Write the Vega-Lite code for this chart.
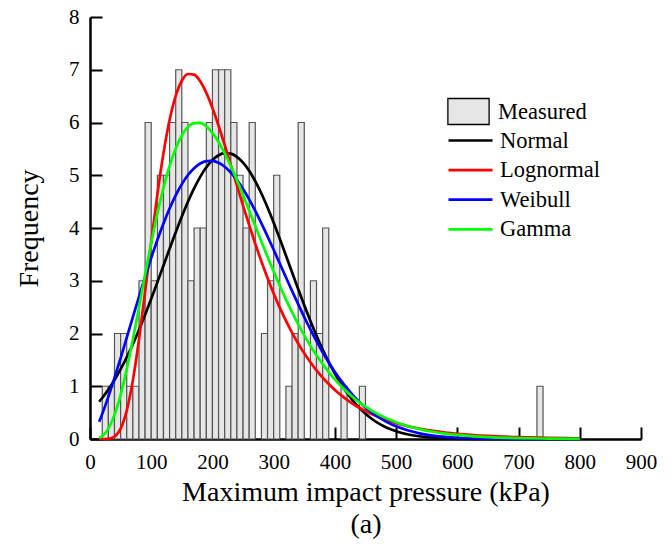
{
  "$schema": "https://vega.github.io/schema/vega-lite/v6.json",
  "width": 551,
  "height": 422,
  "autosize": {"type": "none"},
  "padding": {"left": 90, "top": 17, "right": 31, "bottom": 105},
  "background": "white",
  "config": {
    "font": "Liberation Serif",
    "view": {"stroke": null},
    "axis": {
      "grid": false,
      "domainColor": "black",
      "domainWidth": 2.5,
      "tickColor": "black",
      "tickWidth": 2,
      "tickSize": -12,
      "labelColor": "black",
      "labelFont": "Liberation Serif",
      "labelFontSize": 21,
      "labelFlush": false,
      "labelOverlap": false,
      "titleFont": "Liberation Serif",
      "titleFontSize": 28,
      "titleFontWeight": "normal",
      "titleColor": "black"
    },
    "legend": {
      "labelFont": "Liberation Serif",
      "labelFontSize": 22.5,
      "labelColor": "black",
      "padding": 0
    }
  },
  "datasets": {
    "bins": [
      {"lo": 20, "hi": 30, "count": 1}, {"lo": 30, "hi": 40, "count": 1},
      {"lo": 40, "hi": 50, "count": 2}, {"lo": 50, "hi": 60, "count": 2},
      {"lo": 60, "hi": 70, "count": 1}, {"lo": 70, "hi": 80, "count": 1},
      {"lo": 80, "hi": 90, "count": 3}, {"lo": 90, "hi": 100, "count": 6},
      {"lo": 100, "hi": 110, "count": 3}, {"lo": 110, "hi": 120, "count": 5},
      {"lo": 120, "hi": 130, "count": 5}, {"lo": 130, "hi": 140, "count": 6},
      {"lo": 140, "hi": 150, "count": 7}, {"lo": 150, "hi": 160, "count": 6},
      {"lo": 160, "hi": 170, "count": 3}, {"lo": 170, "hi": 180, "count": 4},
      {"lo": 180, "hi": 190, "count": 4}, {"lo": 190, "hi": 200, "count": 6},
      {"lo": 200, "hi": 210, "count": 7}, {"lo": 210, "hi": 220, "count": 7},
      {"lo": 220, "hi": 230, "count": 7}, {"lo": 230, "hi": 240, "count": 6},
      {"lo": 240, "hi": 250, "count": 5}, {"lo": 250, "hi": 260, "count": 4},
      {"lo": 260, "hi": 270, "count": 6}, {"lo": 280, "hi": 290, "count": 2},
      {"lo": 290, "hi": 300, "count": 3}, {"lo": 300, "hi": 310, "count": 5},
      {"lo": 320, "hi": 330, "count": 1}, {"lo": 330, "hi": 340, "count": 2},
      {"lo": 340, "hi": 350, "count": 6}, {"lo": 360, "hi": 370, "count": 3},
      {"lo": 370, "hi": 380, "count": 2}, {"lo": 380, "hi": 390, "count": 4},
      {"lo": 410, "hi": 420, "count": 1}, {"lo": 440, "hi": 450, "count": 1},
      {"lo": 730, "hi": 740, "count": 1}
    ],
    "fits": [
      {"p": 15, "Normal": 0.706, "Lognormal": 0.0, "Weibull": 0.328, "Gamma": 0.022},
      {"p": 20, "Normal": 0.778, "Lognormal": 0.0001, "Weibull": 0.476, "Gamma": 0.055},
      {"p": 30, "Normal": 0.937, "Lognormal": 0.005, "Weibull": 0.803, "Gamma": 0.197},
      {"p": 40, "Normal": 1.119, "Lognormal": 0.045, "Weibull": 1.159, "Gamma": 0.457},
      {"p": 50, "Normal": 1.323, "Lognormal": 0.196, "Weibull": 1.534, "Gamma": 0.838},
      {"p": 60, "Normal": 1.55, "Lognormal": 0.539, "Weibull": 1.92, "Gamma": 1.324},
      {"p": 70, "Normal": 1.799, "Lognormal": 1.111, "Weibull": 2.309, "Gamma": 1.887},
      {"p": 80, "Normal": 2.068, "Lognormal": 1.886, "Weibull": 2.695, "Gamma": 2.494},
      {"p": 90, "Normal": 2.356, "Lognormal": 2.791, "Weibull": 3.071, "Gamma": 3.113},
      {"p": 100, "Normal": 2.658, "Lognormal": 3.735, "Weibull": 3.433, "Gamma": 3.713},
      {"p": 110, "Normal": 2.971, "Lognormal": 4.632, "Weibull": 3.773, "Gamma": 4.269},
      {"p": 120, "Normal": 3.289, "Lognormal": 5.417, "Weibull": 4.086, "Gamma": 4.762},
      {"p": 130, "Normal": 3.608, "Lognormal": 6.047, "Weibull": 4.37, "Gamma": 5.177},
      {"p": 140, "Normal": 3.919, "Lognormal": 6.505, "Weibull": 4.619, "Gamma": 5.509},
      {"p": 150, "Normal": 4.218, "Lognormal": 6.792, "Weibull": 4.831, "Gamma": 5.754},
      {"p": 160, "Normal": 4.498, "Lognormal": 6.919, "Weibull": 5.004, "Gamma": 5.914},
      {"p": 170, "Normal": 4.75, "Lognormal": 6.908, "Weibull": 5.134, "Gamma": 5.99},
      {"p": 180, "Normal": 4.97, "Lognormal": 6.78, "Weibull": 5.223, "Gamma": 5.993},
      {"p": 190, "Normal": 5.151, "Lognormal": 6.561, "Weibull": 5.268, "Gamma": 5.927},
      {"p": 200, "Normal": 5.289, "Lognormal": 6.275, "Weibull": 5.273, "Gamma": 5.803},
      {"p": 210, "Normal": 5.38, "Lognormal": 5.939, "Weibull": 5.237, "Gamma": 5.63},
      {"p": 220, "Normal": 5.42, "Lognormal": 5.574, "Weibull": 5.162, "Gamma": 5.417},
      {"p": 230, "Normal": 5.41, "Lognormal": 5.192, "Weibull": 5.052, "Gamma": 5.174},
      {"p": 240, "Normal": 5.349, "Lognormal": 4.806, "Weibull": 4.909, "Gamma": 4.906},
      {"p": 250, "Normal": 5.239, "Lognormal": 4.424, "Weibull": 4.738, "Gamma": 4.624},
      {"p": 260, "Normal": 5.084, "Lognormal": 4.054, "Weibull": 4.541, "Gamma": 4.332},
      {"p": 270, "Normal": 4.886, "Lognormal": 3.7, "Weibull": 4.323, "Gamma": 4.036},
      {"p": 280, "Normal": 4.653, "Lognormal": 3.365, "Weibull": 4.089, "Gamma": 3.743},
      {"p": 290, "Normal": 4.388, "Lognormal": 3.051, "Weibull": 3.842, "Gamma": 3.454},
      {"p": 300, "Normal": 4.101, "Lognormal": 2.759, "Weibull": 3.587, "Gamma": 3.174},
      {"p": 310, "Normal": 3.796, "Lognormal": 2.49, "Weibull": 3.326, "Gamma": 2.905},
      {"p": 320, "Normal": 3.48, "Lognormal": 2.243, "Weibull": 3.066, "Gamma": 2.648},
      {"p": 330, "Normal": 3.161, "Lognormal": 2.017, "Weibull": 2.808, "Gamma": 2.406},
      {"p": 340, "Normal": 2.845, "Lognormal": 1.811, "Weibull": 2.556, "Gamma": 2.178},
      {"p": 350, "Normal": 2.536, "Lognormal": 1.624, "Weibull": 2.311, "Gamma": 1.966},
      {"p": 360, "Normal": 2.239, "Lognormal": 1.455, "Weibull": 2.077, "Gamma": 1.769},
      {"p": 370, "Normal": 1.959, "Lognormal": 1.302, "Weibull": 1.854, "Gamma": 1.587},
      {"p": 380, "Normal": 1.697, "Lognormal": 1.165, "Weibull": 1.645, "Gamma": 1.421},
      {"p": 390, "Normal": 1.457, "Lognormal": 1.042, "Weibull": 1.451, "Gamma": 1.268},
      {"p": 400, "Normal": 1.239, "Lognormal": 0.931, "Weibull": 1.271, "Gamma": 1.13},
      {"p": 410, "Normal": 1.043, "Lognormal": 0.832, "Weibull": 1.107, "Gamma": 1.004},
      {"p": 420, "Normal": 0.871, "Lognormal": 0.743, "Weibull": 0.959, "Gamma": 0.89},
      {"p": 430, "Normal": 0.72, "Lognormal": 0.663, "Weibull": 0.824, "Gamma": 0.787},
      {"p": 440, "Normal": 0.589, "Lognormal": 0.592, "Weibull": 0.704, "Gamma": 0.695},
      {"p": 450, "Normal": 0.478, "Lognormal": 0.529, "Weibull": 0.598, "Gamma": 0.612},
      {"p": 460, "Normal": 0.384, "Lognormal": 0.472, "Weibull": 0.505, "Gamma": 0.539},
      {"p": 470, "Normal": 0.306, "Lognormal": 0.422, "Weibull": 0.423, "Gamma": 0.473},
      {"p": 480, "Normal": 0.241, "Lognormal": 0.377, "Weibull": 0.353, "Gamma": 0.415},
      {"p": 490, "Normal": 0.188, "Lognormal": 0.336, "Weibull": 0.292, "Gamma": 0.363},
      {"p": 500, "Normal": 0.146, "Lognormal": 0.301, "Weibull": 0.24, "Gamma": 0.318},
      {"p": 520, "Normal": 0.085, "Lognormal": 0.24, "Weibull": 0.16, "Gamma": 0.242},
      {"p": 540, "Normal": 0.048, "Lognormal": 0.192, "Weibull": 0.103, "Gamma": 0.183},
      {"p": 560, "Normal": 0.026, "Lognormal": 0.154, "Weibull": 0.065, "Gamma": 0.138},
      {"p": 580, "Normal": 0.013, "Lognormal": 0.123, "Weibull": 0.04, "Gamma": 0.103},
      {"p": 600, "Normal": 0.007, "Lognormal": 0.099, "Weibull": 0.024, "Gamma": 0.077},
      {"p": 650, "Normal": 0.001, "Lognormal": 0.058, "Weibull": 0.006, "Gamma": 0.036},
      {"p": 700, "Normal": 0.0, "Lognormal": 0.034, "Weibull": 0.001, "Gamma": 0.017},
      {"p": 750, "Normal": 0.0, "Lognormal": 0.02, "Weibull": 0.0, "Gamma": 0.008},
      {"p": 800, "Normal": 0.0, "Lognormal": 0.012, "Weibull": 0.0, "Gamma": 0.003}
    ]
  },
  "layer": [
    {
      "data": {"name": "bins"},
      "mark": {"type": "rect", "stroke": "#555555", "strokeWidth": 1.2},
      "encoding": {
        "x": {
          "field": "lo", "type": "quantitative",
          "scale": {"domain": [0, 900], "nice": false, "zero": false},
          "axis": {
            "values": [0, 100, 200, 300, 400, 500, 600, 700, 800, 900],
            "format": "d",
            "labelPadding": 24,
            "title": ["Maximum impact pressure (kPa)", "(a)"],
            "titleLineHeight": 32,
            "titlePadding": 6
          }
        },
        "x2": {"field": "hi"},
        "y": {
          "field": "count", "type": "quantitative",
          "scale": {"domain": [0, 8], "nice": false},
          "axis": {
            "values": [0, 1, 2, 3, 4, 5, 6, 7, 8],
            "format": "d",
            "labelPadding": 23,
            "title": "Frequency",
            "titlePadding": 25
          }
        },
        "y2": {"datum": 0},
        "fill": {
          "datum": "Measured",
          "scale": {"range": ["#e6e6e6"]},
          "legend": {
            "title": null,
            "orient": "none",
            "legendX": 357,
            "legendY": 73,
            "symbolType": "M-1,-0.63H1V0.63H-1Z",
            "symbolSize": 1700,
            "symbolStrokeColor": "black",
            "symbolStrokeWidth": 1.3,
            "labelOffset": 8
          }
        }
      }
    },
    {
      "data": {"name": "fits"},
      "transform": [{"fold": ["Normal", "Lognormal", "Weibull", "Gamma"], "as": ["dist", "freq"]}],
      "mark": {"type": "line", "strokeWidth": 2.7, "interpolate": "monotone"},
      "encoding": {
        "x": {"field": "p", "type": "quantitative"},
        "y": {"field": "freq", "type": "quantitative"},
        "stroke": {
          "field": "dist", "type": "nominal",
          "scale": {
            "domain": ["Normal", "Lognormal", "Weibull", "Gamma"],
            "range": ["#000000", "#ff0000", "#0000ff", "#00ff00"]
          },
          "legend": {
            "title": null,
            "orient": "none",
            "legendX": 364,
            "legendY": 107,
            "symbolType": "M-1.5,0H1.5",
            "symbolSize": 860,
            "symbolStrokeWidth": 2.7,
            "labelOffset": 13,
            "rowPadding": 1.6
          }
        }
      }
    }
  ]
}
